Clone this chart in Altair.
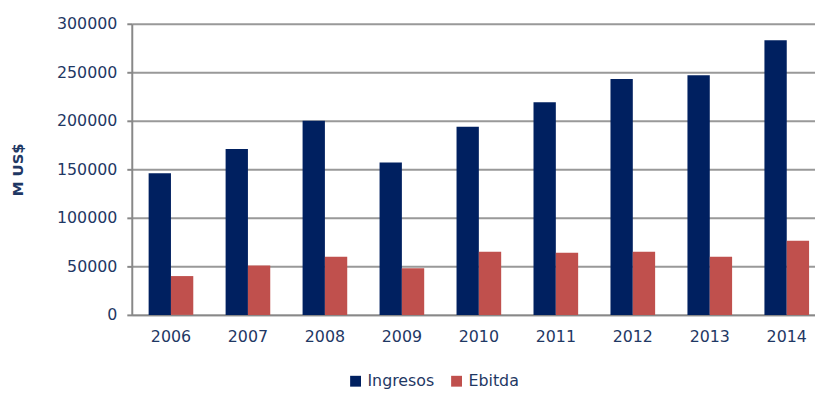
import altair as alt
import pandas as pd

years = ["2006", "2007", "2008", "2009", "2010", "2011", "2012", "2013", "2014"]
ingresos = [146000, 171000, 200000, 157000, 194000, 219000, 243000, 247000, 283000]
ebitda = [40000, 51000, 60000, 48000, 65000, 64000, 65000, 60000, 76500]
series = ["Ingresos", "Ebitda"]
colors = ["#002060", "#C0504D"]

rows = []
for y, a, b in zip(years, ingresos, ebitda):
    rows.append({"year": y, "serie": "Ingresos", "value": a})
    rows.append({"year": y, "serie": "Ebitda", "value": b})
df = pd.DataFrame(rows)

text_color = "#1F3864"
font = "DejaVu Sans"

chart = alt.Chart(df).mark_bar().encode(
    x=alt.X("year:N", sort=years, title=None,
            scale=alt.Scale(paddingInner=0.42, paddingOuter=0.148, align=0.74),
            axis=alt.Axis(labelAngle=0, tickSize=0, labelPadding=14,
                          labelFontSize=16, labelColor=text_color, labelFont=font,
                          domainColor="#888888", domainWidth=2, grid=False)),
    xOffset=alt.XOffset("serie:N", sort=series),
    y=alt.Y("value:Q", title="M US$",
            scale=alt.Scale(domain=[0, 300000], nice=False),
            axis=alt.Axis(values=[0, 50000, 100000, 150000, 200000, 250000, 300000],
                          format="d", labelFontSize=16, labelColor=text_color, labelFont=font,
                          tickSize=5, tickColor="#888888", tickWidth=2, labelPadding=10,
                          domainColor="#888888", domainWidth=2,
                          gridColor="#999999", gridWidth=2,
                          titleFont=font, titleFontSize=15, titleFontWeight="bold",
                          titleColor=text_color, titleAngle=-90,
                          titleX=-115, titleY=147, titleAlign="center", titleBaseline="middle")),
    color=alt.Color("serie:N", sort=series,
                    scale=alt.Scale(domain=series, range=colors),
                    legend=alt.Legend(title=None, orient="none", direction="horizontal",
                                      legendX=218, legendY=353, symbolType="square",
                                      symbolSize=120, symbolStrokeWidth=0, symbolOpacity=1,
                                      labelFontSize=16, labelColor=text_color, labelFont=font,
                                      columnPadding=14, labelOffset=4)),
).properties(
    width=690, height=294,
    autosize=alt.AutoSizeParams(type="none"),
    padding={"left": 125, "top": 14, "right": 0, "bottom": 81},
).configure_view(stroke=None)

chart.save("out.html", embed_options={"renderer": "svg", "actions": False})
